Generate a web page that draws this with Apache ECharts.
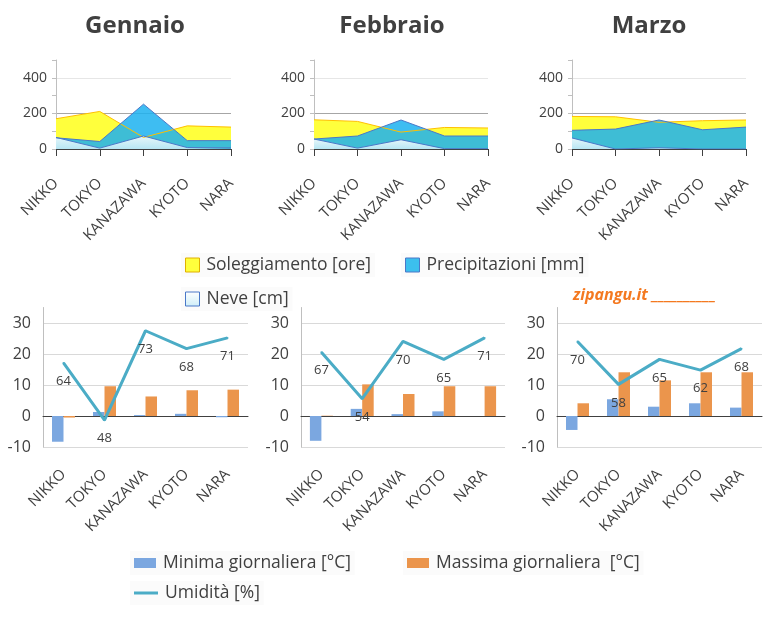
<!DOCTYPE html>
<html>
<head>
<meta charset="utf-8">
<title>Clima Giappone - Gennaio Febbraio Marzo</title>
<script src="https://cdn.jsdelivr.net/npm/echarts@6/dist/echarts.min.js"></script>
<style>
    html, body { margin: 0; padding: 0; background: #fff; }
    #chart { width: 777px; height: 620px; }
</style>
</head>
<body>
<div id="chart"></div>
<script>
const cities = ['NIKKO', 'TOKYO', 'KANAZAWA', 'KYOTO', 'NARA'];
const months = ['Gennaio', 'Febbraio', 'Marzo'];

// Soleggiamento [ore]
const sunJan = [170, 211, 65, 130, 123];
const sunFeb = [164, 155, 95, 121, 118];
const sunMar = [183, 181, 150, 159, 163];
// Precipitazioni [mm]
const rainJan = [63, 42, 252, 47, 47];
const rainFeb = [56, 73, 163, 73, 73];
const rainMar = [105, 112, 163, 108, 123];
// Neve [cm]
const snowJan = [65, 5, 73, 8, 6];
const snowFeb = [56, 5, 52, 2, 2];
const snowMar = [62, 0, 7, 0, 0];

// Minima / Massima giornaliera [°C]
const minJan = [-8.3, 1.3, 0.3, 0.7, -0.4];
const maxJan = [-0.5, 9.6, 6.3, 8.3, 8.5];
const minFeb = [-8.0, 2.3, 0.6, 1.5, 0];
const maxFeb = [0.1, 10.2, 7.1, 9.6, 9.6];
const minMar = [-4.5, 5.4, 3.0, 4.1, 2.7];
const maxMar = [4.1, 14.1, 11.5, 14.1, 14.1];
// Umidità [%]
const humJan = [64, 48, 73, 68, 71];
const humFeb = [67, 54, 70, 65, 71];
const humMar = [70, 58, 65, 62, 68];

const sun = [sunJan, sunFeb, sunMar];
const rain = [rainJan, rainFeb, rainMar];
const snow = [snowJan, snowFeb, snowMar];
const tMin = [minJan, minFeb, minMar];
const tMax = [maxJan, maxFeb, maxMar];
const hum = [humJan, humFeb, humMar];

const FONT = '"Open Sans", "Noto Sans", sans-serif';
const TXT = '#404040';

// layout of the six panels
const titleX = [130, 387, 644];
const topGrids = [{ left: 56, width: 175 }, { left: 314, width: 174 }, { left: 572, width: 174 }];
const botGrids = [{ left: 43, width: 205 }, { left: 301, width: 204 }, { left: 557, width: 205 }];

const snowFill = () => new echarts.graphic.LinearGradient(0, 0, 0, 1, [
    { offset: 0, color: 'rgba(255,255,255,0.88)' },
    { offset: 1, color: 'rgba(200,236,248,0.88)' }
]);

let chart = echarts.init(document.getElementById('chart'));

let grid = [], xAxis = [], yAxis = [], series = [];

// top row: area charts
topGrids.forEach((g, i) => {
    grid.push({ left: g.left, width: g.width, top: 60, height: 89 });
    xAxis.push({
        type: 'category', gridIndex: i, data: cities, boundaryGap: false,
        axisLine: { lineStyle: { color: TXT } },
        axisTick: { length: 7, lineStyle: { color: TXT } },
        axisLabel: { interval: 0, rotate: 45, margin: 32, fontSize: 15, color: TXT, fontFamily: FONT }
    });
    yAxis.push({
        type: 'value', gridIndex: i, min: 0, max: 500, interval: 200,
        axisLine: { show: true, lineStyle: { color: '#bfbfbf' } },
        axisTick: { show: true, length: 4, lineStyle: { color: '#bfbfbf' } },
        minorTick: { show: true, splitNumber: 2, length: 4, lineStyle: { color: '#bfbfbf' } },
        axisLabel: { showMaxLabel: false, fontSize: 14, color: TXT, fontFamily: FONT, margin: 9 },
        splitLine: { show: true, showMaxLine: false, lineStyle: { color: ['#e6e6e6', '#a6a6a6', '#e6e6e6'] } }
    });
});

// bottom row: temperature bars + humidity line
botGrids.forEach((g, i) => {
    grid.push({ left: g.left, width: g.width, top: 307.5, height: 139.5 });
});
botGrids.forEach((g, i) => {
    // labels axis at the bottom of the plot
    xAxis.push({
        type: 'category', gridIndex: 3 + i, data: cities, position: 'bottom',
        axisLine: { show: false, onZero: false },
        axisTick: { show: false },
        axisLabel: { interval: 0, rotate: 45, margin: 25, fontSize: 15, color: TXT, fontFamily: FONT }
    });
});
botGrids.forEach((g, i) => {
    // axis line crossing at 0
    xAxis.push({
        type: 'category', gridIndex: 3 + i, data: cities, position: 'top',
        axisLine: { onZero: true, onZeroAxisIndex: 3 + i, lineStyle: { color: TXT } },
        axisTick: { inside: true, length: 6, lineStyle: { color: TXT } },
        axisLabel: { show: false }
    });
});
botGrids.forEach((g, i) => {
    yAxis.push({
        type: 'value', gridIndex: 3 + i, min: -10, max: 35, interval: 10,
        axisLine: { show: true, lineStyle: { color: '#bfbfbf' } },
        axisTick: { show: false },
        axisLabel: { showMaxLabel: false, fontSize: 16, color: TXT, fontFamily: FONT, margin: 12 },
        splitLine: { show: true, showMaxLine: false, lineStyle: { color: '#d9d9d9' } }
    });
});
botGrids.forEach((g, i) => {
    yAxis.push({ type: 'value', gridIndex: 3 + i, min: 40.5, max: 79.5, show: false });
});

for (let i = 0; i < 3; i++) {
    series.push({
        name: 'Soleggiamento [ore]', type: 'line', xAxisIndex: i, yAxisIndex: i,
        data: sun[i], symbol: 'none',
        lineStyle: { color: '#ffc000', width: 1 },
        itemStyle: { color: '#ffff3c' },
        areaStyle: { color: '#ffff3c', opacity: 1 }
    });
    series.push({
        name: 'Precipitazioni [mm]', type: 'line', xAxisIndex: i, yAxisIndex: i,
        data: rain[i], symbol: 'none',
        lineStyle: { color: '#4a78c8', width: 1 },
        itemStyle: { color: '#1cb2f0' },
        areaStyle: { color: 'rgba(28,178,240,0.85)', opacity: 1 }
    });
    series.push({
        name: 'Neve [cm]', type: 'line', xAxisIndex: i, yAxisIndex: i,
        data: snow[i], symbol: 'none',
        lineStyle: { color: '#4a78c8', width: 1 },
        itemStyle: { color: '#dff3fa' },
        areaStyle: { color: snowFill(), opacity: 1 }
    });
}

for (let i = 0; i < 3; i++) {
    series.push({
        name: 'Minima giornaliera [°C]', type: 'bar', xAxisIndex: 6 + i, yAxisIndex: 3 + i,
        data: tMin[i], barWidth: 11.5, barGap: '0%',
        itemStyle: { color: '#7ba7e0' }
    });
    series.push({
        name: 'Massima giornaliera  [°C]', type: 'bar', xAxisIndex: 6 + i, yAxisIndex: 3 + i,
        data: tMax[i], barWidth: 11.5, barGap: '0%',
        itemStyle: { color: '#eb954c' }
    });
    series.push({
        name: 'Umidità [%]', type: 'line', xAxisIndex: 6 + i, yAxisIndex: 6 + i,
        data: hum[i], symbol: 'circle', symbolSize: 2, showSymbol: true,
        lineStyle: { color: '#4bacc6', width: 3 },
        itemStyle: { color: '#4bacc6' },
        label: { show: true, position: 'bottom', distance: 11, fontSize: 13, color: TXT, fontFamily: FONT }
    });
}

// one legend box per item, placed like the original
function legendItem(name, left, top, iconW, iconH, itemStyle) {
    return {
        data: [{ name: name, icon: 'rect', itemStyle: itemStyle }],
        left: left, top: top, padding: [3, 4],
        itemWidth: iconW, itemHeight: iconH,
        backgroundColor: 'rgba(0,0,0,0.015)',
        selectedMode: false,
        textStyle: { fontSize: 17.5, color: TXT, fontFamily: FONT, padding: [0, 0, 0, 2] }
    };
}

let option = {
    animation: false,
    backgroundColor: '#fff',
    textStyle: { fontFamily: FONT },
    title: months.map((m, i) => ({
        text: m, left: titleX[i], top: 9, textAlign: 'center',
        textStyle: { fontSize: 24, fontWeight: 'bold', color: TXT, fontFamily: FONT }
    })),
    legend: [
        legendItem('Soleggiamento [ore]', 181, 253, 14, 14, { color: '#ffff3c', borderColor: '#e0b000', borderWidth: 1 }),
        legendItem('Precipitazioni [mm]', 401, 253, 14, 14, { color: '#3cbfee', borderColor: '#4a78c8', borderWidth: 1 }),
        legendItem('Neve [cm]', 181, 287, 14, 14, { color: snowFill(), borderColor: '#4a78c8', borderWidth: 1 }),
        legendItem('Minima giornaliera [°C]', 130, 551, 22, 10, { color: '#7ba7e0' }),
        legendItem('Massima giornaliera  [°C]', 403, 551, 22, 10, { color: '#eb954c' }),
        legendItem('Umidità [%]', 130, 581, 24, 3, { color: '#4bacc6' })
    ],
    graphic: [{
        type: 'text', left: 573, top: 287,
        style: { text: 'zipangu.it __________', fill: '#f47920', font: 'italic bold 16px "Open Sans", sans-serif' }
    }],
    grid: grid,
    xAxis: xAxis,
    yAxis: yAxis,
    series: series
};

chart.setOption(option);
</script>
</body>
</html>
